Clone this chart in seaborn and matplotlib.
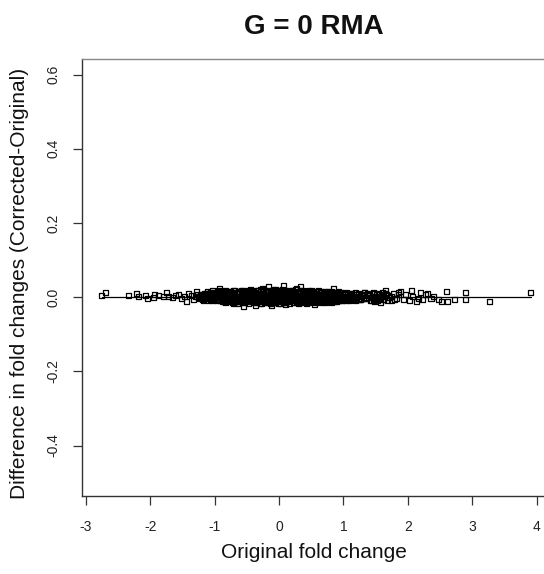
import matplotlib
matplotlib.use("Agg")
import matplotlib.pyplot as plt
import seaborn as sns
import pandas as pd

# ---- data ----
title = "G = 0 RMA"
x_label = "Original fold change"
y_label = "Difference in fold changes (Corrected-Original)"
x_ticks = [-3, -2, -1, 0, 1, 2, 3, 4]
y_ticks = [-0.4, -0.2, 0.0, 0.2, 0.4, 0.6]
y_tick_labels = ["-0.4", "-0.2", "0.0", "0.2", "0.4", "0.6"]

left_x = [-2.75, -2.70, -2.34, -2.22, -2.18, -2.08, -2.04, -1.95, -1.94, -1.87, -1.80, -1.74,
          -1.72, -1.66, -1.61, -1.56, -1.51, -1.47, -1.43, -1.40, -1.36, -1.33, -1.30, -1.28,
          -1.26, -1.23, -1.20, -1.17, -1.14, -1.12, -1.09, -1.06, -1.04, -1.02]
left_y = [0.005, 0.012, 0.005, 0.010, 0.001, 0.005, -0.004, -0.002, 0.008, 0.005, 0.003, 0.012,
          0.001, -0.002, 0.005, 0.008, -0.004, 0.002, -0.013, 0.010, 0.005, -0.006, 0.003, 0.014,
          0.008, -0.004, 0.001, -0.008, 0.006, 0.010, -0.003, 0.012, -0.010, 0.005]

right_x = [3.91, 3.27, 2.89, 2.60, 2.89, 2.73, 2.62, 2.53, 2.47, 2.31, 2.19, 2.05, 1.89, 1.86,
           1.66, 2.23, 2.13, 2.02, 1.58, 1.46, 1.33, 1.35, 1.38, 1.40, 1.44, 1.48, 1.50, 1.53,
           1.56, 1.60, 1.62, 1.70, 1.74, 1.78, 1.82, 1.93, 1.97, 2.08, 2.16, 2.27, 2.36, 2.40]
right_y = [0.012, -0.013, 0.012, 0.015, -0.005, -0.007, -0.011, -0.013, -0.007, 0.011, 0.012,
           0.019, 0.015, 0.012, 0.019, -0.007, -0.011, -0.009, -0.014, 0.012, 0.012, -0.004,
           0.011, 0.005, -0.008, -0.013, 0.002, -0.010, 0.007, 0.013, -0.005, 0.004, -0.009,
           0.010, -0.003, -0.006, 0.006, 0.002, -0.003, 0.006, -0.004, 0.003]

core_a_x = [-1.00, -0.95, -0.91, -0.86, -0.80, -0.76, -0.71, -0.66, -0.61, -0.57, -0.52, -0.47,
            -0.43, -0.38, -0.33, -0.29, -0.24, -0.19, -0.14, -0.10, -0.05, 0.00, 0.04, 0.09,
            0.14, 0.19, 0.23, 0.28, 0.33, 0.38, 0.42, 0.47, 0.52, 0.57, 0.61, 0.66, 0.71, 0.76,
            0.81, 0.86, 0.91, 0.96, 1.01, 1.07, 1.13]
core_a_y = [0.011, 0.014, 0.009, 0.016, 0.012, 0.015, 0.018, 0.011, 0.014, 0.017, 0.012, 0.016,
            0.019, 0.013, 0.017, 0.015, 0.020, 0.014, 0.018, 0.016, 0.021, 0.015, 0.019, 0.017,
            0.014, 0.018, 0.016, 0.013, 0.017, 0.015, 0.012, 0.016, 0.014, 0.011, 0.015, 0.013,
            0.010, 0.014, 0.011, 0.013, 0.009, 0.012, 0.010, 0.008, 0.011]

core_b_x = [-1.08, -1.03, -0.98, -0.93, -0.88, -0.83, -0.78, -0.73, -0.69, -0.64, -0.59, -0.54,
            -0.50, -0.45, -0.40, -0.36, -0.31, -0.26, -0.22, -0.17, -0.12, -0.07, -0.03, 0.02,
            0.07, 0.11, 0.16, 0.21, 0.26, 0.30, 0.35, 0.40, 0.45, 0.49, 0.54, 0.59, 0.64, 0.68,
            0.73, 0.78, 0.83, 0.88, 0.94, 0.99, 1.04, 1.10, 1.16, 1.22]
core_b_y = [0.006, 0.003, 0.007, 0.004, 0.008, 0.005, 0.002, 0.007, 0.005, 0.009, 0.004, 0.006,
            0.008, 0.003, 0.007, 0.005, 0.009, 0.006, 0.004, 0.008, 0.006, 0.003, 0.007, 0.005,
            0.008, 0.004, 0.006, 0.003, 0.007, 0.005, 0.002, 0.006, 0.004, 0.001, 0.005, 0.003,
            0.006, 0.002, 0.004, 0.001, 0.003, 0.005, 0.000, 0.003, 0.001, 0.004, -0.001, 0.002]

core_c_x = [-1.05, -1.00, -0.95, -0.90, -0.85, -0.81, -0.76, -0.71, -0.66, -0.62, -0.57, -0.52,
            -0.48, -0.43, -0.38, -0.34, -0.29, -0.24, -0.20, -0.15, -0.10, -0.06, -0.01, 0.04,
            0.08, 0.13, 0.18, 0.22, 0.27, 0.32, 0.37, 0.41, 0.46, 0.51, 0.56, 0.61, 0.66, 0.70,
            0.75, 0.80, 0.85, 0.90, 0.96, 1.02, 1.08, 1.14, 1.20, 1.26]
core_c_y = [-0.001, -0.004, 0.000, -0.003, -0.005, -0.002, -0.006, -0.001, -0.004, -0.002,
            -0.005, -0.003, -0.001, -0.004, -0.006, -0.002, -0.003, -0.005, -0.001, -0.004,
            -0.002, -0.006, -0.003, -0.001, -0.005, -0.003, -0.002, -0.006, -0.004, -0.002,
            -0.005, -0.003, -0.006, -0.004, -0.002, -0.005, -0.007, -0.003, -0.005, -0.004,
            -0.006, -0.003, -0.005, -0.007, -0.004, -0.006, -0.003, -0.005]

core_d_x = [-0.92, -0.86, -0.80, -0.74, -0.68, -0.63, -0.57, -0.51, -0.46, -0.40, -0.35, -0.29,
            -0.23, -0.18, -0.12, -0.07, -0.01, 0.05, 0.10, 0.16, 0.21, 0.27, 0.32, 0.38, 0.44,
            0.49, 0.55, 0.60, 0.66, 0.72, 0.78, 0.84, 0.90, 0.97]
core_d_y = [-0.008, -0.011, -0.009, -0.013, -0.010, -0.012, -0.015, -0.010, -0.013, -0.011,
            -0.014, -0.016, -0.012, -0.015, -0.011, -0.014, -0.017, -0.012, -0.015, -0.013,
            -0.010, -0.014, -0.012, -0.015, -0.011, -0.013, -0.010, -0.012, -0.014, -0.011,
            -0.013, -0.010, -0.012, -0.009]

core_e_x = [-1.18, -1.13, -1.065, -1.015, -0.965, -0.915, -0.865, -0.815, -0.765, -0.715,
            -0.665, -0.615, -0.565, -0.515, -0.465, -0.415, -0.365, -0.315, -0.265, -0.215,
            -0.165, -0.115, -0.065, -0.015, 0.035, 0.085, 0.135, 0.185, 0.235, 0.285, 0.335,
            0.385, 0.435, 0.485, 0.535, 0.585, 0.635, 0.685, 0.735, 0.785, 0.835, 0.885, 0.935,
            0.985, 1.035, 1.09, 1.15, 1.21, 1.28]
core_e_y = [0.008, 0.011, 0.009, 0.012, 0.010, 0.008, 0.011, 0.013, 0.009, 0.012, 0.010, 0.013,
            0.011, 0.009, 0.012, 0.010, 0.013, 0.011, 0.009, 0.012, 0.014, 0.010, 0.012, 0.011,
            0.013, 0.010, 0.012, 0.009, 0.011, 0.013, 0.010, 0.008, 0.011, 0.009, 0.012, 0.010,
            0.008, 0.011, 0.009, 0.007, 0.010, 0.008, 0.006, 0.009, 0.007, 0.005, 0.008, 0.006,
            0.004]

core_f_x = [-1.22, -1.16, -1.11, -1.04, -0.99, -0.94, -0.89, -0.84, -0.79, -0.745, -0.695,
            -0.645, -0.595, -0.545, -0.495, -0.445, -0.395, -0.345, -0.295, -0.245, -0.195,
            -0.145, -0.095, -0.045, 0.005, 0.055, 0.105, 0.155, 0.205, 0.255, 0.305, 0.355,
            0.405, 0.455, 0.505, 0.555, 0.605, 0.655, 0.705, 0.755, 0.805, 0.855, 0.91, 0.97,
            1.03, 1.09, 1.15, 1.24, 1.31]
core_f_y = [0.003, 0.000, 0.002, 0.001, -0.001, 0.002, 0.000, 0.003, 0.001, -0.001, 0.002,
            0.000, 0.001, 0.003, -0.001, 0.001, 0.002, 0.000, 0.002, -0.001, 0.001, 0.003, 0.000,
            0.002, 0.001, -0.001, 0.002, 0.000, 0.001, -0.002, 0.001, 0.000, -0.001, 0.001,
            -0.002, 0.000, -0.001, 0.001, -0.002, 0.000, -0.001, -0.003, 0.000, -0.002, -0.001,
            -0.003, -0.002, -0.004, -0.003]

core_g_x = [-1.02, -0.97, -0.92, -0.875, -0.825, -0.775, -0.725, -0.675, -0.625, -0.575,
            -0.525, -0.475, -0.425, -0.375, -0.325, -0.275, -0.225, -0.175, -0.125, -0.075,
            -0.025, 0.025, 0.075, 0.125, 0.175, 0.225, 0.275, 0.325, 0.375, 0.425, 0.475, 0.525,
            0.575, 0.625, 0.675, 0.725, 0.775, 0.825, 0.875, 0.93, 0.99, 1.05, 1.12, 1.18]
core_g_y = [-0.006, -0.008, -0.005, -0.009, -0.007, -0.010, -0.006, -0.008, -0.011, -0.007,
            -0.009, -0.006, -0.010, -0.008, -0.011, -0.007, -0.009, -0.012, -0.008, -0.010,
            -0.007, -0.009, -0.011, -0.008, -0.010, -0.007, -0.009, -0.011, -0.008, -0.010,
            -0.007, -0.009, -0.008, -0.010, -0.007, -0.009, -0.008, -0.010, -0.007, -0.009,
            -0.008, -0.010, -0.007, -0.009]

core_h_x = [-1.11, -1.04, -0.985, -0.94, -0.89, -0.835, -0.785, -0.74, -0.685, -0.635, -0.585,
            -0.54, -0.49, -0.44, -0.39, -0.34, -0.295, -0.245, -0.195, -0.14, -0.09, -0.04,
            0.015, 0.06, 0.115, 0.165, 0.21, 0.26, 0.31, 0.36, 0.41, 0.46, 0.51, 0.56, 0.615,
            0.665, 0.715, 0.765, 0.815, 0.87, 0.92, 0.98, 1.04, 1.11, 1.19]
core_h_y = [0.014, 0.017, 0.013, 0.018, 0.015, 0.019, 0.016, 0.013, 0.018, 0.016, 0.019, 0.015,
            0.017, 0.020, 0.016, 0.018, 0.021, 0.017, 0.019, 0.016, 0.020, 0.018, 0.017, 0.021,
            0.019, 0.016, 0.018, 0.020, 0.016, 0.018, 0.015, 0.017, 0.019, 0.015, 0.017, 0.014,
            0.016, 0.013, 0.015, 0.012, 0.014, 0.011, 0.013, 0.010, 0.012]

core_i_x = [-1.14, -1.07, -1.02, -0.975, -0.925, -0.87, -0.82, -0.77, -0.72, -0.675, -0.625,
            -0.575, -0.53, -0.48, -0.43, -0.38, -0.33, -0.285, -0.235, -0.185, -0.135, -0.085,
            -0.035, 0.015, 0.065, 0.115, 0.16, 0.21, 0.26, 0.31, 0.36, 0.41, 0.455, 0.505,
            0.555, 0.605, 0.655, 0.705, 0.755, 0.81, 0.86, 0.915, 0.97, 1.03, 1.10, 1.17, 1.25]
core_i_y = [-0.004, -0.006, -0.003, -0.007, -0.005, -0.004, -0.008, -0.005, -0.007, -0.004,
            -0.006, -0.008, -0.005, -0.007, -0.004, -0.006, -0.008, -0.005, -0.007, -0.004,
            -0.006, -0.008, -0.005, -0.007, -0.004, -0.006, -0.009, -0.005, -0.007, -0.006,
            -0.008, -0.005, -0.007, -0.009, -0.006, -0.008, -0.005, -0.007, -0.009, -0.006,
            -0.008, -0.005, -0.007, -0.006, -0.008, -0.005, -0.007]

core_j_x = [-0.88, -0.83, -0.78, -0.73, -0.68, -0.63, -0.58, -0.53, -0.48, -0.43, -0.38,
            -0.33, -0.28, -0.23, -0.18, -0.13, -0.08, -0.03, 0.02, 0.07, 0.12, 0.17, 0.22,
            0.27, 0.32, 0.37, 0.42, 0.47, 0.52, 0.57, 0.62, 0.67, 0.72, 0.77, 0.82, 0.87]
core_j_y = [-0.012, -0.014, -0.011, -0.015, -0.013, -0.016, -0.012, -0.014, -0.017, -0.013,
            -0.015, -0.012, -0.016, -0.014, -0.013, -0.017, -0.015, -0.012, -0.016, -0.014,
            -0.013, -0.016, -0.014, -0.012, -0.015, -0.013, -0.016, -0.014, -0.012, -0.015,
            -0.013, -0.011, -0.014, -0.012, -0.015, -0.013]

shoulder_x = [1.24, 1.27, 1.30, 1.33, 1.36, 1.39, 1.42, 1.45, 1.48, 1.52, 1.55, 1.59, 1.63,
              1.67, 1.71, 1.25, 1.29, 1.34, 1.38, 1.43, 1.47, 1.51, 1.57, 1.61, 1.65, 1.69,
              1.75, 1.80, 1.85, -1.25, -1.22, -1.19, -1.16, -1.13, -1.10]
shoulder_y = [0.010, -0.006, 0.004, 0.012, -0.002, 0.008, -0.010, 0.003, 0.009, -0.005, 0.011,
              0.001, -0.007, 0.006, -0.002, 0.001, 0.008, -0.004, 0.005, 0.000, -0.006, 0.007,
              -0.003, 0.004, 0.009, -0.008, 0.002, -0.005, 0.006, -0.002, 0.007, -0.005, 0.011,
              0.002, -0.009]

scatter_x = [-0.92, -0.55, -0.37, -0.17, 0.07, 0.27, 0.33, -0.11, 0.84, 0.30, -0.70, 0.55,
             -0.25, 0.10]
scatter_y = [0.022, -0.026, -0.022, 0.028, 0.032, 0.023, 0.028, -0.022, 0.022, -0.016, -0.018,
             -0.019, 0.024, -0.020]

# ---- assemble ----
xs = (left_x + core_a_x + core_b_x + core_c_x + core_d_x + core_e_x + core_f_x + core_g_x
      + core_h_x + core_i_x + core_j_x + shoulder_x + scatter_x + right_x)
ys = (left_y + core_a_y + core_b_y + core_c_y + core_d_y + core_e_y + core_f_y + core_g_y
      + core_h_y + core_i_y + core_j_y + shoulder_y + scatter_y + right_y)
df = pd.DataFrame({"orig": xs, "diff": ys})

sns.set_style("ticks")
plt.rcParams["font.family"] = ["Liberation Sans", "DejaVu Sans"]

fig = plt.figure(figsize=(5.44, 5.74), dpi=100)
W, H = 544, 574
ax_l, ax_r, ax_t, ax_b = 82, 546, 59, 496
ax = fig.add_axes([ax_l / W, 1 - ax_b / H, (ax_r - ax_l) / W, (ax_b - ax_t) / H])

sns.scatterplot(data=df, x="orig", y="diff", ax=ax, marker="s", s=13,
                facecolor="none", edgecolor="black", linewidth=0.9, legend=False)

line_df = pd.DataFrame({"orig": [min(xs), max(xs)], "diff": [0.0, 0.0]})
sns.lineplot(data=line_df, x="orig", y="diff", ax=ax, color="black", linewidth=0.9, zorder=5)

ax.set_xlim(-3.06, 4.146)
ax.set_ylim(-0.536, 0.642)
ax.set_xticks(x_ticks)
ax.set_xticklabels([str(t) for t in x_ticks])
ax.set_yticks(y_ticks)
ax.set_yticklabels(y_tick_labels)

for sp in ax.spines.values():
    sp.set_color("#333333")
    sp.set_linewidth(1.0)
ax.spines["top"].set_color("#888888")

ax.tick_params(axis="both", direction="out", length=6.5, width=0.9, color="#333333",
               labelsize=10, labelcolor="#222222")
ax.tick_params(axis="x", pad=11)
ax.tick_params(axis="y", pad=9, labelrotation=90)
for lab in ax.get_yticklabels():
    lab.set_verticalalignment("center")

ax.set_xlabel(x_label, fontsize=15, color="#111111")
ax.xaxis.label.set_verticalalignment("center")
ax.xaxis.set_label_coords(0.5, (ax_b - 553) / (ax_b - ax_t))

ax.set_ylabel(y_label, fontsize=15, color="#111111")
ax.yaxis.label.set_verticalalignment("center")
ax.yaxis.set_label_coords((20 - ax_l) / (ax_r - ax_l), (ax_b - 283) / (ax_b - ax_t))

ax.text(0.5, (ax_b - 27) / (ax_b - ax_t), title, transform=ax.transAxes,
        ha="center", va="center", fontsize=20, fontweight="bold", color="#111111")

fig.savefig("out.png", dpi=100)
